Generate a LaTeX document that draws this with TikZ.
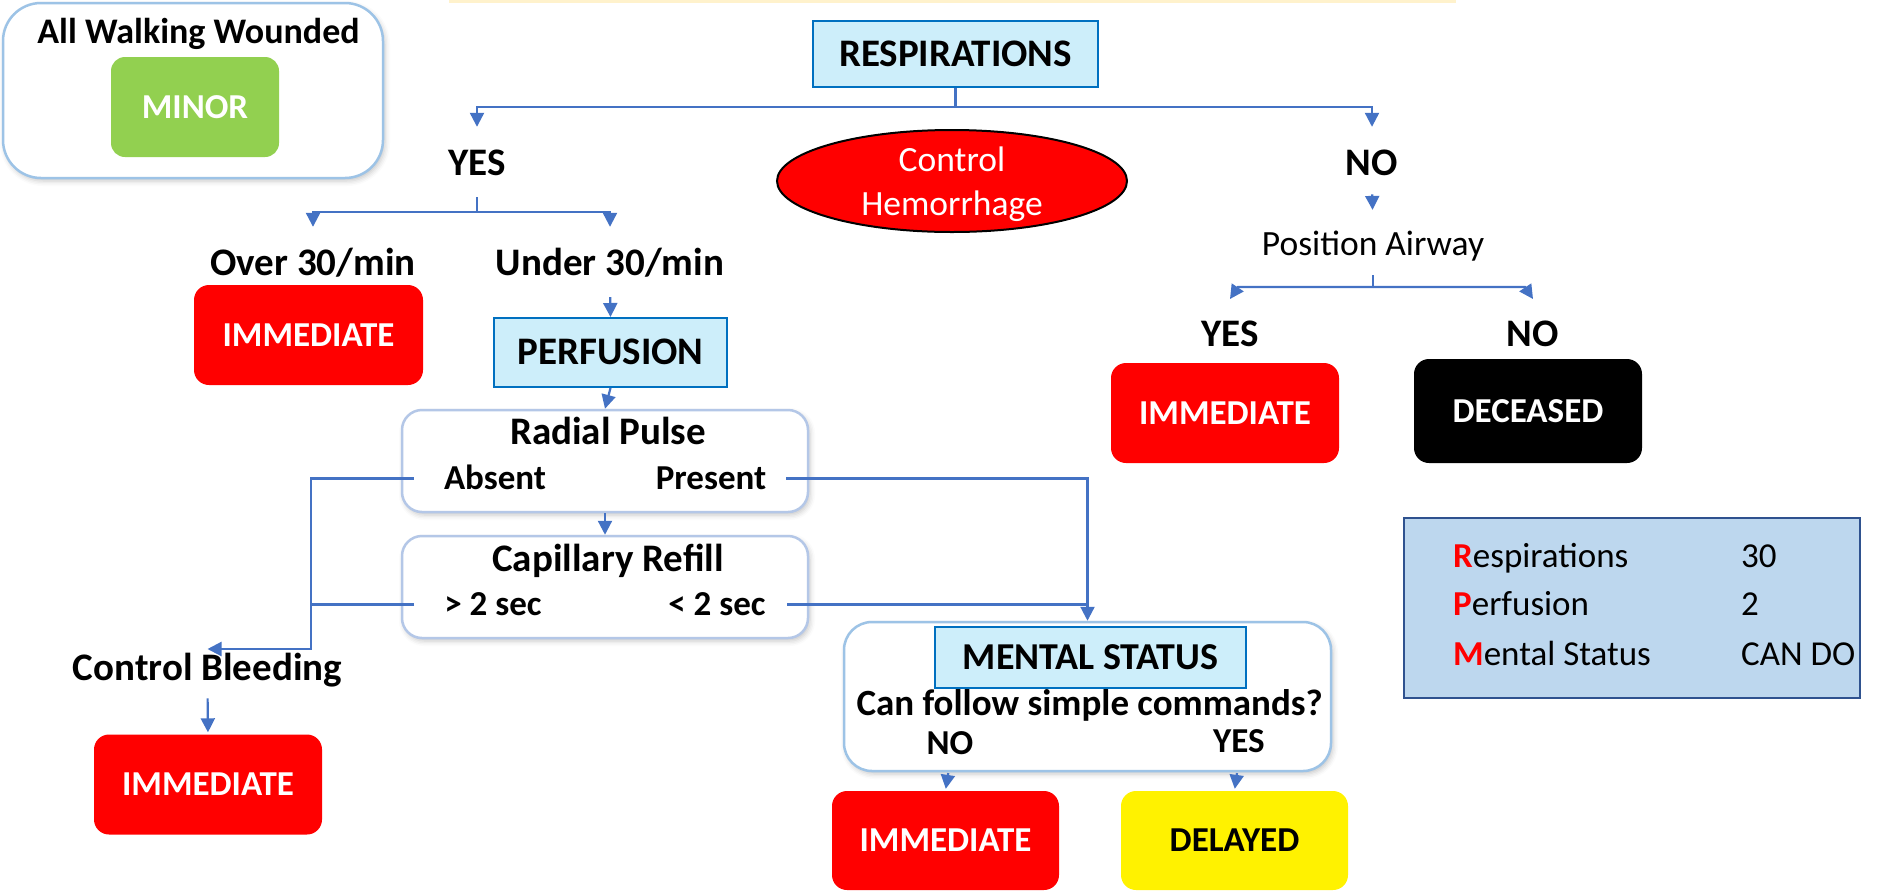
\documentclass[tikz,border=0pt]{standalone}
\usepackage{fontspec}
\setmainfont{Carlito}
\usetikzlibrary{arrows.meta,shapes.geometric,shadows.blur}

\definecolor{linkblue}{HTML}{4472C4}
\definecolor{headfill}{HTML}{CDEEFA}
\definecolor{headline}{HTML}{0070C0}
\definecolor{softblue}{HTML}{9DC3E6}
\definecolor{greyblue}{HTML}{B4C7E7}
\definecolor{tablefill}{HTML}{BDD7EE}
\definecolor{tableline}{HTML}{2F528F}
\definecolor{minorgreen}{HTML}{92D050}
\definecolor{stripyellow}{HTML}{FFF2CC}

\begin{document}
\begin{tikzpicture}[x=1pt,y=-1pt,
  conn/.style={draw=linkblue,line width=2.2pt},
  arr/.style={conn,-{Triangle[width=14pt,length=14pt]}},
  labelbig/.style={anchor=base,inner sep=0pt,font=\fontsize{39}{47}\selectfont\bfseries,text height=27.3pt,text depth=7.8pt},
  labelsmall/.style={anchor=base,inner sep=0pt,font=\fontsize{35}{43}\selectfont\bfseries,text height=29.1pt,text depth=7pt},
  labelplain/.style={anchor=base,inner sep=0pt,font=\fontsize{35.5}{43}\selectfont,text height=24.9pt,text depth=7.1pt},
  tabtext/.style={anchor=base west,inner sep=0pt,font=\fontsize{35}{43}\selectfont},
  headbox/.style={draw=headline,fill=headfill,line width=2pt,inner sep=0pt,font=\fontsize{39}{47}\selectfont\bfseries,text height=24.6pt,text depth=0pt},
  tag/.style={rounded corners=15pt,inner sep=0pt,font=\fontsize{35}{43}\selectfont\bfseries,text=white,text height=22.1pt,text depth=0pt,minimum width=228pt,minimum height=100pt},
  panel/.style={fill=white,line width=2.5pt,blur shadow={shadow xshift=2pt,shadow yshift=-3pt,shadow opacity=22,shadow blur radius=5pt}},
]
\useasboundingbox (0,0) rectangle (1903,895);
\fill[stripyellow] (449,0) rectangle (1456,3);

% walking wounded
\node[panel,draw=softblue,rounded corners=38pt,minimum width=380pt,minimum height=175pt] (walk) at (193,90.5) {};
\node[labelsmall,font=\fontsize{36}{44}\selectfont\bfseries] (walktitle) at (198.5,43) {All Walking Wounded};
\node[tag,fill=minorgreen,minimum width=168pt,rounded corners=14pt] (minor) at (195,107) {MINOR};

% respirations and first split
\node[headbox,minimum width=285pt,minimum height=66pt] (resp) at (955.5,54) {RESPIRATIONS};
\coordinate (rsplit) at (955.5,107);
\node[labelbig] (yes1) at (477,175.3) {YES};
\node[labelbig] (no1) at (1372,175.3) {NO};
\draw[conn] (resp.south) -- (rsplit);
\draw[arr,shorten >=21pt] (rsplit) -| (yes1.north);
\draw[arr,shorten >=21pt] (rsplit) -| (no1.north);

% control hemorrhage
\node[ellipse,draw=black,fill=red,line width=2pt,minimum width=350pt,minimum height=102pt,inner sep=0pt] (hem) at (952,181) {};
\node[align=center,text=white,inner sep=0pt,font=\fontsize{35.5}{44}\selectfont] (hemtext) at (952,184) {Control\\Hemorrhage};

% not breathing
\node[labelplain] (pa) at (1373,255) {Position Airway};
\draw[arr,shorten <=11pt,shorten >=20pt] (no1.south) -- (pa.north);
\coordinate (psplit) at (1373,287);
\node[labelbig] (yes2) at (1230,346.8) {YES};
\node[labelbig] (no2) at (1533,346.8) {NO};
\coordinate (yes2tip) at (1230,299);
\coordinate (no2tip) at (1533,299);
\draw[conn,shorten <=13pt] (pa.south) -- (psplit);
\draw[arr] (psplit) -- ([xshift=8pt]psplit -| yes2tip) -- (yes2tip);
\draw[arr] (psplit) -- ([xshift=-8pt]psplit -| no2tip) -- (no2tip);
\node[tag,fill=red] (imm2) at (1225,413) {IMMEDIATE};
\node[tag,fill=black,minimum height=104pt] (dec) at (1528,411) {DECEASED};

% breathing: rate
\coordinate (ysplit) at (477,212);
\node[labelbig] (over) at (313,275.8) {Over 30/min};
\node[labelbig] (under) at (610,275.8) {Under 30/min};
\draw[conn,shorten <=14pt] (yes1.south) -- (ysplit);
\draw[arr,shorten >=21.5pt] (ysplit) -| (over.north);
\draw[arr,shorten >=21.5pt] (ysplit) -| (under.north);
\node[tag,fill=red,minimum width=229pt] (imm1) at (308.5,335) {IMMEDIATE};

% perfusion
\node[headbox,minimum width=233pt,minimum height=69pt] (perf) at (610.5,352.5) {PERFUSION};
\draw[arr,shorten <=13.4pt] (under.south) -- (perf.north);

\node[panel,draw=greyblue,rounded corners=20pt,minimum width=406pt,minimum height=102pt] (radial) at (605,461) {};
\node[labelbig] (radialtitle) at (608,444.5) {Radial Pulse};
\node[labelsmall] (absent) at (495,489.5) {Absent};
\node[labelsmall] (present) at (711,489.5) {Present};
\draw[arr] (perf.south) -- (radial.north);

\node[panel,draw=greyblue,rounded corners=20pt,minimum width=406pt,minimum height=102pt] (capill) at (605,587) {};
\node[labelbig] (capilltitle) at (608,571) {Capillary Refill};
\node[labelsmall] (slow) at (493,615.5) {> 2 sec};
\node[labelsmall] (fast) at (717,615.5) {< 2 sec};
\draw[arr] (radial.south) -- (capill.north);

% bleeding control
\coordinate (bjoin) at (311,649);
\node[labelbig] (cb) at (207.5,680.8) {Control Bleeding};
\draw[arr,shorten <=30pt] (absent.west) -| (bjoin) -- (bjoin -| cb.north);
\draw[conn,shorten <=30pt] (slow.west) -- (slow.west -| bjoin);
\node[tag,fill=red] (imm3) at (208,784.5) {IMMEDIATE};
\draw[arr,shorten <=9.5pt,shorten >=2pt] (cb.south) -- (imm3.north);

% mental status
\node[panel,draw=softblue,rounded corners=28pt,minimum width=487pt,minimum height=149pt] (ms) at (1087.5,696.5) {};
\node[headbox,minimum width=311pt,minimum height=61pt,font=\fontsize{38}{46}\selectfont\bfseries,text height=24pt] (mshead) at (1090.5,657.5) {MENTAL STATUS};
\node[labelsmall,font=\fontsize{37}{45}\selectfont\bfseries] (question) at (1089.6,715) {Can follow simple commands?};
\node[labelsmall] (msno) at (950,754) {NO};
\node[labelsmall] (msyes) at (1238.8,752.5) {YES};
\draw[arr,shorten <=20pt] (present.east) -| (ms.north);
\draw[conn,shorten <=21.5pt] (fast.east) -- (fast.east -| ms.north);
\node[tag,fill=red,minimum width=227pt,minimum height=99pt] (imm4) at (945.5,840.5) {IMMEDIATE};
\node[tag,fill=yellow,text=black,minimum width=227pt,minimum height=99pt] (delayed) at (1234.5,840.5) {DELAYED};
\draw[arr,shorten <=12pt,shorten >=2pt] (msno.south) -- (imm4.north);
\draw[arr,shorten <=13.5pt,shorten >=2pt] (msyes.south) -- (delayed.north);

% RPM summary
\node[draw=tableline,fill=tablefill,line width=2.5pt,minimum width=456pt,minimum height=180pt,inner sep=0pt] (rpm) at (1632,608) {};
\node[tabtext] (rname) at (1453,567) {{\bfseries\color{red}R}espirations};
\node[tabtext] (rval) at (1741,567) {30};
\node[tabtext] (pname) at (1453,615) {{\bfseries\color{red}P}erfusion};
\node[tabtext] (pval) at (1741,615) {2};
\node[tabtext] (mname) at (1453,665) {{\bfseries\color{red}M}ental Status};
\node[tabtext] (mval) at (1741,665) {CAN DO};
\end{tikzpicture}
\end{document}
